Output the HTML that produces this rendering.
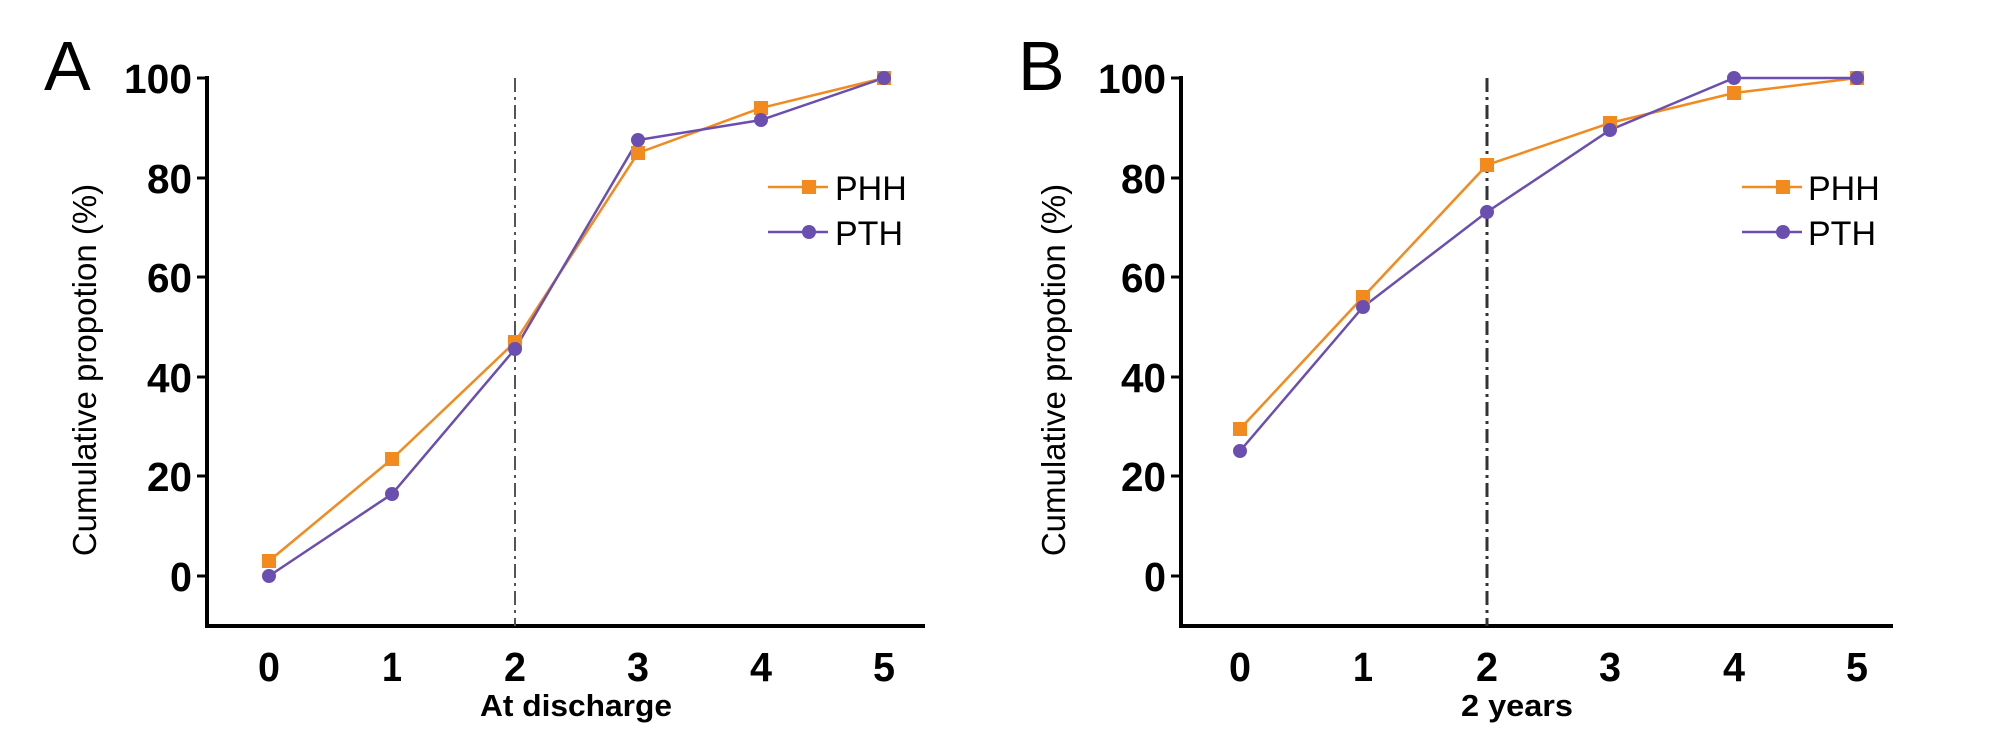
<!DOCTYPE html>
<html><head><meta charset="utf-8"><style>body{margin:0;background:#fff}svg{display:block}</style></head>
<body>
<svg width="2008" height="744" viewBox="0 0 2008 744" xmlns="http://www.w3.org/2000/svg" font-family="Liberation Sans, sans-serif">
<!-- Panel A -->
<g>
<text x="44" y="90" font-size="70">A</text>
<line x1="207" y1="76" x2="207" y2="627" stroke="#000" stroke-width="4"/>
<line x1="205" y1="626" x2="925" y2="626" stroke="#000" stroke-width="4"/>
<g stroke="#000" stroke-width="3">
<line x1="197" y1="78" x2="207" y2="78"/><line x1="197" y1="178" x2="207" y2="178"/><line x1="197" y1="277" x2="207" y2="277"/><line x1="197" y1="377" x2="207" y2="377"/><line x1="197" y1="476" x2="207" y2="476"/><line x1="197" y1="576" x2="207" y2="576"/>
</g>
<g font-size="41" font-weight="bold" text-anchor="end" lengthAdjust="spacingAndGlyphs">
<text x="192" y="93" textLength="68" lengthAdjust="spacingAndGlyphs">100</text><text x="192" y="193" textLength="45" lengthAdjust="spacingAndGlyphs">80</text><text x="192" y="292" textLength="45" lengthAdjust="spacingAndGlyphs">60</text><text x="192" y="392" textLength="45" lengthAdjust="spacingAndGlyphs">40</text><text x="192" y="491" textLength="45" lengthAdjust="spacingAndGlyphs">20</text><text x="192" y="591" textLength="22" lengthAdjust="spacingAndGlyphs">0</text>
</g>
<g font-size="41" font-weight="bold" text-anchor="middle">
<text x="269" y="681" textLength="22" lengthAdjust="spacingAndGlyphs">0</text><text x="392" y="681" textLength="20" lengthAdjust="spacingAndGlyphs">1</text><text x="515" y="681" textLength="22" lengthAdjust="spacingAndGlyphs">2</text><text x="638" y="681" textLength="22" lengthAdjust="spacingAndGlyphs">3</text><text x="761" y="681" textLength="22" lengthAdjust="spacingAndGlyphs">4</text><text x="884" y="681" textLength="22" lengthAdjust="spacingAndGlyphs">5</text>
</g>
<text x="576" y="716" font-size="31" font-weight="bold" text-anchor="middle" textLength="192" lengthAdjust="spacingAndGlyphs">At discharge</text>
<text transform="translate(96,370) rotate(-90)" font-size="33" text-anchor="middle">Cumulative propotion (%)</text>
<line x1="515" y1="78" x2="515" y2="626" stroke="#555" stroke-width="2" stroke-dasharray="14,5,3,5"/>
<polyline points="269,561 392,459 515,342 638,153 761,108 884,78" fill="none" stroke="#f28a1e" stroke-width="2.5"/>
<polyline points="269,576 392,494 515,349 638,140 761,120 884,78" fill="none" stroke="#6a4fb0" stroke-width="2.5"/>
<g fill="#f28a1e"><rect x="262" y="554" width="14" height="14"/><rect x="385" y="452" width="14" height="14"/><rect x="508" y="335" width="14" height="14"/><rect x="631" y="146" width="14" height="14"/><rect x="754" y="101" width="14" height="14"/><rect x="877" y="71" width="14" height="14"/></g>
<g fill="#6a4fb0"><circle cx="269" cy="576" r="7"/><circle cx="392" cy="494" r="7"/><circle cx="515" cy="349" r="7"/><circle cx="638" cy="140" r="7"/><circle cx="761" cy="120" r="7"/><circle cx="884" cy="78" r="7"/></g>
<line x1="768" y1="187" x2="828" y2="187" stroke="#f28a1e" stroke-width="2.5"/><rect x="802" y="180" width="14" height="14" fill="#f28a1e"/>
<text x="835" y="200" font-size="34">PHH</text>
<line x1="768" y1="232" x2="828" y2="232" stroke="#6a4fb0" stroke-width="2.5"/><circle cx="809" cy="232" r="7" fill="#6a4fb0"/>
<text x="835" y="245" font-size="34">PTH</text>
</g>
<!-- Panel B -->
<g>
<text x="1018" y="90" font-size="70">B</text>
<line x1="1181" y1="76" x2="1181" y2="627" stroke="#000" stroke-width="4"/>
<line x1="1179" y1="626" x2="1893" y2="626" stroke="#000" stroke-width="4"/>
<g stroke="#000" stroke-width="3">
<line x1="1171" y1="78" x2="1181" y2="78"/><line x1="1171" y1="178" x2="1181" y2="178"/><line x1="1171" y1="277" x2="1181" y2="277"/><line x1="1171" y1="377" x2="1181" y2="377"/><line x1="1171" y1="476" x2="1181" y2="476"/><line x1="1171" y1="576" x2="1181" y2="576"/>
</g>
<g font-size="41" font-weight="bold" text-anchor="end">
<text x="1166" y="93" textLength="68" lengthAdjust="spacingAndGlyphs">100</text><text x="1166" y="193" textLength="45" lengthAdjust="spacingAndGlyphs">80</text><text x="1166" y="292" textLength="45" lengthAdjust="spacingAndGlyphs">60</text><text x="1166" y="392" textLength="45" lengthAdjust="spacingAndGlyphs">40</text><text x="1166" y="491" textLength="45" lengthAdjust="spacingAndGlyphs">20</text><text x="1166" y="591" textLength="22" lengthAdjust="spacingAndGlyphs">0</text>
</g>
<g font-size="41" font-weight="bold" text-anchor="middle">
<text x="1240" y="681" textLength="22" lengthAdjust="spacingAndGlyphs">0</text><text x="1363" y="681" textLength="20" lengthAdjust="spacingAndGlyphs">1</text><text x="1487" y="681" textLength="22" lengthAdjust="spacingAndGlyphs">2</text><text x="1610" y="681" textLength="22" lengthAdjust="spacingAndGlyphs">3</text><text x="1734" y="681" textLength="22" lengthAdjust="spacingAndGlyphs">4</text><text x="1857" y="681" textLength="22" lengthAdjust="spacingAndGlyphs">5</text>
</g>
<text x="1517" y="716" font-size="31" font-weight="bold" text-anchor="middle" textLength="112" lengthAdjust="spacingAndGlyphs">2 years</text>
<text transform="translate(1065,370) rotate(-90)" font-size="33" text-anchor="middle">Cumulative propotion (%)</text>
<line x1="1487" y1="78" x2="1487" y2="626" stroke="#333" stroke-width="3" stroke-dasharray="14,5,3,5"/>
<polyline points="1240,429 1363,297 1487,165 1610,123 1734,93 1857,78" fill="none" stroke="#f28a1e" stroke-width="2.5"/>
<polyline points="1240,451 1363,307 1487,212 1610,130 1734,78 1857,78" fill="none" stroke="#6a4fb0" stroke-width="2.5"/>
<g fill="#f28a1e"><rect x="1233" y="422" width="14" height="14"/><rect x="1356" y="290" width="14" height="14"/><rect x="1480" y="158" width="14" height="14"/><rect x="1603" y="116" width="14" height="14"/><rect x="1727" y="86" width="14" height="14"/><rect x="1850" y="71" width="14" height="14"/></g>
<g fill="#6a4fb0"><circle cx="1240" cy="451" r="7"/><circle cx="1363" cy="307" r="7"/><circle cx="1487" cy="212" r="7"/><circle cx="1610" cy="130" r="7"/><circle cx="1734" cy="78" r="7"/><circle cx="1857" cy="78" r="7"/></g>
<line x1="1742" y1="187" x2="1802" y2="187" stroke="#f28a1e" stroke-width="2.5"/><rect x="1776" y="180" width="14" height="14" fill="#f28a1e"/>
<text x="1808" y="200" font-size="34">PHH</text>
<line x1="1742" y1="232" x2="1802" y2="232" stroke="#6a4fb0" stroke-width="2.5"/><circle cx="1783" cy="232" r="7" fill="#6a4fb0"/>
<text x="1808" y="245" font-size="34">PTH</text>
</g>
</svg>
</body></html>
